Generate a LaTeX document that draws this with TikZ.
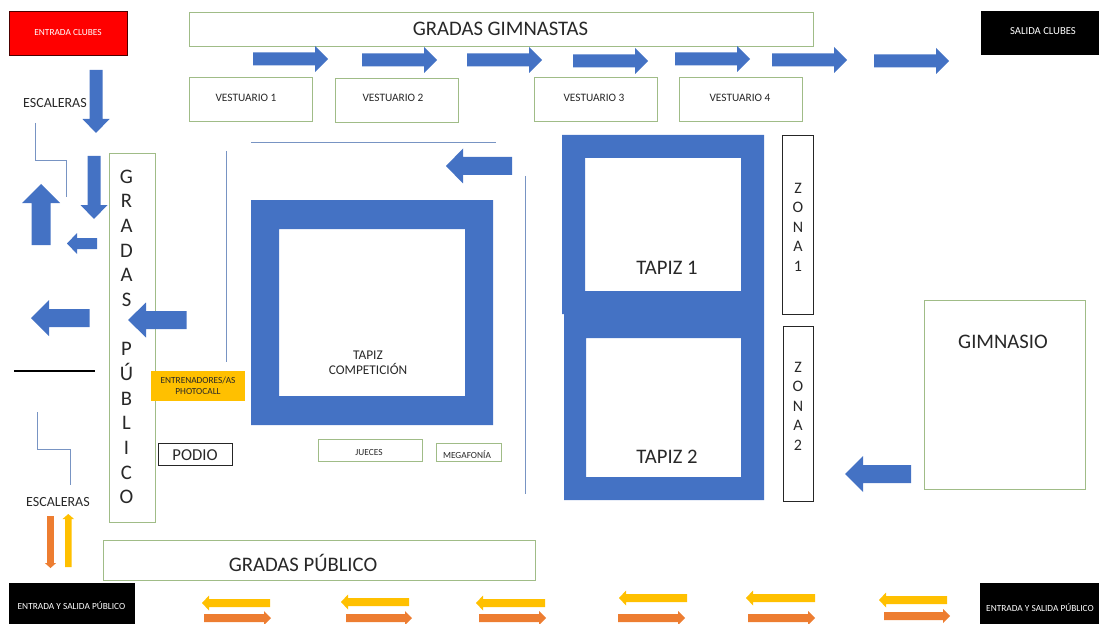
\documentclass[tikz,border=0pt]{standalone}
\usepackage{fontspec}
\setmainfont{Carlito}
\definecolor{tapizblue}{RGB}{68,114,196}
\definecolor{arroworange}{RGB}{237,125,49}
\definecolor{arrowyellow}{RGB}{255,192,0}
\definecolor{boxgreen}{RGB}{160,188,135}
\definecolor{wallblue}{RGB}{120,148,195}
\definecolor{labelgray}{RGB}{40,40,40}
\tikzset{
  greenbox/.style={draw=boxgreen,line width=0.7pt,fill=white},
  blackbox/.style={draw=black!85,line width=0.6pt,fill=white},
  wall/.style={draw=wallblue,line width=0.6pt},
  txt/.style={inner sep=0pt,text=labelgray,align=center},
}
% horizontal block arrow: colour, tail x, neck x, tip x, y, half shaft, half head
\newcommand{\harrow}[7]{\fill[#1] (#2,{#5-#6}) -- (#3,{#5-#6}) -- (#3,{#5-#7}) -- (#4,#5) -- (#3,{#5+#7}) -- (#3,{#5+#6}) -- (#2,{#5+#6}) -- cycle;}
% vertical block arrow: colour, x, tail y, neck y, tip y, half shaft, half head
\newcommand{\varrow}[7]{\fill[#1] ({#2-#6},#3) -- ({#2-#6},#4) -- ({#2-#7},#4) -- (#2,#5) -- ({#2+#7},#4) -- ({#2+#6},#4) -- ({#2+#6},#3) -- cycle;}
\begin{document}
\begin{tikzpicture}[x=0.75pt,y=0.75pt,yscale=-1,xscale=1]
  \useasboundingbox (0,0) rectangle (1099,624);

  % boxes
  \draw [fill=red,draw=black!70!red,line width=0.5pt] (9,11) rectangle (127,55);
  \fill [black] (981,11) rectangle (1099,55);
  \fill [black] (9,583) rectangle (135,624);
  \fill [black] (980,583) rectangle (1099,624);
  \draw [greenbox] (189,12) rectangle (813,46);
  \draw [greenbox] (189,77) rectangle (312,121);
  \draw [greenbox] (335,78) rectangle (458,122);
  \draw [greenbox] (534,77) rectangle (657,121);
  \draw [greenbox] (679,77) rectangle (802,121);
  \draw [greenbox] (109,153) rectangle (155,522);
  \draw [greenbox] (103,540) rectangle (535,580);
  \draw [greenbox] (318,439) rectangle (422,461);
  \draw [greenbox] (436,443) rectangle (501,461);
  \draw [greenbox] (924,300) rectangle (1085,489);
  \draw [blackbox] (158,443) rectangle (232,465);
  \draw [blackbox] (782,135) rectangle (813,314);
  \draw [blackbox] (783,326) rectangle (813,501);
  \fill [arrowyellow] (151,371) rectangle (245,401);

  % tapices
  \fill [tapizblue,even odd rule] (251,200) rectangle (493,425) (279,229) rectangle (465,396);
  \fill [tapizblue,even odd rule] (562,135) rectangle (764,314) (585,158) rectangle (741,291);
  \fill [tapizblue,even odd rule] (564,314) rectangle (764,500) (586,338) rectangle (741,477);

  % walls
  \draw [wall] (35,123) -- (35,160) -- (66,160) -- (66,197);
  \draw [wall] (37,412) -- (37,449) -- (70,449) -- (70,485);
  \draw [wall] (226,151) -- (226,362);
  \draw [wall] (251,142) -- (496,142);
  \draw [wall] (525,176) -- (525,494);
  \draw [black,line width=0.8pt] (14,371) -- (95,371);

  % blue arrows
  \foreach \xtail/\ymid in {253/59,362/60,467/60,573/61,675/59,772/60,874/61}{
    \harrow{tapizblue}{\xtail}{\xtail+62}{\xtail+75}{\ymid}{6.5}{13}
  }
  \varrow{tapizblue}{96}{70}{119}{133}{6.5}{13.5}
  \varrow{tapizblue}{94}{156}{205}{219}{6.5}{13.5}
  \varrow{tapizblue}{41}{245}{203}{184}{9.5}{19}
  \harrow{tapizblue}{97}{77}{67}{243.5}{5.5}{10.5}
  \harrow{tapizblue}{89.5}{49}{31}{318}{9}{18}
  \harrow{tapizblue}{186.5}{146}{128}{320}{9}{17.5}
  \harrow{tapizblue}{512}{463}{446}{166}{9}{17.5}
  \harrow{tapizblue}{911}{863}{845}{474}{9}{18}

  % public arrows
  \varrow{arroworange}{50.5}{516}{563}{568}{3.3}{5.7}
  \varrow{arrowyellow}{68.3}{567}{519}{514}{3.3}{5.7}
  \foreach \xa/\xb/\ya in {270/202/603,409/341/602,545/476/603,687/619/598,815/746/598,947/879/600}{
    \harrow{arrowyellow}{\xa}{\xb+7}{\xb}{\ya}{4}{7.5}
  }
  \foreach \xa/\xb/\ya in {204/271/618,346/412/618,479/546/618,618/685/618,748/815/618,884/950/616}{
    \harrow{arroworange}{\xa}{\xb-7}{\xb}{\ya}{4}{7}
  }

  % labels
  \node [txt,text=white,font=\fontsize{7}{8}\selectfont] (entradaclubes) at (68,32.5) {ENTRADA CLUBES};
  \node [txt,text=white,font=\fontsize{8}{9}\selectfont] (salidaclubes) at (1043,31.5) {SALIDA CLUBES};
  \node [txt,text=white,font=\fontsize{7}{8}\selectfont] (entradapublico) at (71.5,606) {ENTRADA Y SALIDA PÚBLICO};
  \node [txt,text=white,font=\fontsize{7}{8}\selectfont] (salidapublico) at (1040,607.5) {ENTRADA Y SALIDA PÚBLICO};
  \node [txt,font=\fontsize{15.5}{18}\selectfont] (gimnastas) at (500.5,29) {GRADAS GIMNASTAS};
  \node [txt,font=\fontsize{15.5}{18}\selectfont] (publico) at (303,563) {GRADAS PÚBLICO};
  \node [txt,font=\fontsize{8.5}{10}\selectfont] (vestuario1) at (246,97.5) {VESTUARIO 1};
  \node [txt,font=\fontsize{8.5}{10}\selectfont] (vestuario2) at (393,97.5) {VESTUARIO 2};
  \node [txt,font=\fontsize{8.5}{10}\selectfont] (vestuario3) at (594,97.5) {VESTUARIO 3};
  \node [txt,font=\fontsize{8.5}{10}\selectfont] (vestuario4) at (740,97.5) {VESTUARIO 4};
  \node [txt,font=\fontsize{10.5}{12}\selectfont] (escaleras1) at (55,103) {ESCALERAS};
  \node [txt,font=\fontsize{10.5}{12}\selectfont] (escaleras2) at (58,502) {ESCALERAS};
  \node [txt,font=\fontsize{15.5}{18.5}\selectfont] (gradasv) at (126.5,337) {G\\R\\A\\D\\A\\S\\[18.5pt]P\\Ú\\B\\L\\I\\C\\O};
  \node [txt,font=\fontsize{7}{8.5}\selectfont] (entrenadores) at (198,386) {ENTRENADORES/AS\\PHOTOCALL};
  \node [txt,font=\fontsize{12.5}{14}\selectfont] (podio) at (195,455) {PODIO};
  \node [txt,font=\fontsize{10}{11.5}\selectfont] (competicion) at (368,363) {TAPIZ\\COMPETICIÓN};
  \node [txt,font=\fontsize{7}{8}\selectfont] (jueces) at (369,453) {JUECES};
  \node [txt,font=\fontsize{7}{8}\selectfont] (megafonia) at (467,455) {MEGAFONÍA};
  \node [txt,font=\fontsize{15.5}{18}\selectfont] (tapiz1) at (667,268) {TAPIZ 1};
  \node [txt,font=\fontsize{15.5}{18}\selectfont] (tapiz2) at (667,457) {TAPIZ 2};
  \node [txt,font=\fontsize{12}{14.6}\selectfont] (zona1) at (798,227) {Z\\O\\N\\A\\1};
  \node [txt,font=\fontsize{12}{14.6}\selectfont] (zona2) at (798,406) {Z\\O\\N\\A\\2};
  \node [txt,font=\fontsize{15.5}{18}\selectfont] (gimnasio) at (1003,342) {GIMNASIO};
\end{tikzpicture}
\end{document}
